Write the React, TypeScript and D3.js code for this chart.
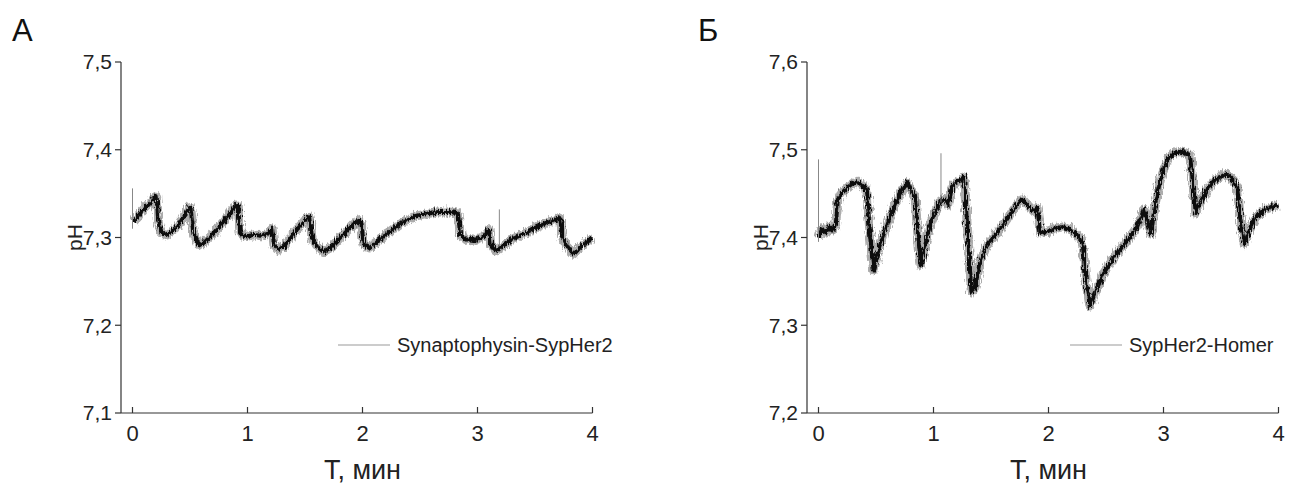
import * as d3 from 'd3';

// Panel A: Synaptophysin-SypHer2 (time, min ; pH)
const timeA = [
  0.01, 0.04, 0.08, 0.12, 0.16, 0.19, 0.21, 0.225, 0.25, 0.3, 0.35, 0.4, 0.45, 0.49, 0.505,
  0.53, 0.58, 0.63, 0.7, 0.77, 0.84, 0.9, 0.92, 0.935, 0.98, 1.05, 1.12, 1.18, 1.215, 1.23,
  1.27, 1.32, 1.38, 1.45, 1.51, 1.545, 1.56, 1.6, 1.66, 1.72, 1.8, 1.87, 1.93, 1.97, 1.99,
  2.01, 2.06, 2.12, 2.2, 2.28, 2.36, 2.45, 2.55, 2.65, 2.75, 2.83, 2.85, 2.9, 2.97, 3.05,
  3.1, 3.115, 3.16, 3.22, 3.3, 3.4, 3.5, 3.6, 3.68, 3.72, 3.74, 3.79, 3.84, 3.9, 3.96, 4.0,
];
const phA = [
  7.318, 7.322, 7.33, 7.335, 7.34, 7.346, 7.347, 7.318, 7.306, 7.303, 7.308, 7.314, 7.325, 7.334, 7.334,
  7.305, 7.291, 7.295, 7.304, 7.315, 7.326, 7.337, 7.336, 7.305, 7.301, 7.303, 7.302, 7.305, 7.31, 7.292,
  7.286, 7.29, 7.301, 7.312, 7.321, 7.323, 7.3, 7.29, 7.284, 7.288, 7.299, 7.308, 7.316, 7.319, 7.316,
  7.292, 7.288, 7.294, 7.303, 7.311, 7.318, 7.324, 7.327, 7.329, 7.329, 7.328, 7.303, 7.298, 7.297, 7.301,
  7.309, 7.292, 7.285, 7.29, 7.298, 7.304, 7.311, 7.317, 7.32, 7.322, 7.3, 7.288, 7.281, 7.29, 7.296, 7.299,
];
const spikeTimeA = [0.0, 3.19];
const spikeLowA = [7.31, 7.29];
const spikeHighA = [7.356, 7.332];

// Panel Б: SypHer2-Homer
const timeB = [
  0.005, 0.03, 0.06, 0.09, 0.12, 0.15, 0.17, 0.2, 0.25, 0.3, 0.35, 0.4, 0.42, 0.45, 0.48,
  0.52, 0.57, 0.62, 0.67, 0.72, 0.77, 0.8, 0.84, 0.86, 0.89, 0.93, 0.97, 1.02, 1.06, 1.1,
  1.13, 1.16, 1.2, 1.24, 1.265, 1.29, 1.33, 1.36, 1.4, 1.46, 1.52, 1.58, 1.65, 1.72, 1.77,
  1.82, 1.87, 1.9, 1.93, 1.97, 2.05, 2.12, 2.18, 2.24, 2.28, 2.3, 2.33, 2.36, 2.4, 2.47,
  2.55, 2.62, 2.7, 2.77, 2.83, 2.86, 2.89, 2.93, 2.98, 3.04, 3.08, 3.13, 3.18, 3.23, 3.25,
  3.28, 3.32, 3.38, 3.44, 3.5, 3.55, 3.61, 3.64, 3.67, 3.7, 3.75, 3.8, 3.87, 3.94, 4.0,
];
const phB = [
  7.4, 7.41, 7.405, 7.412, 7.408, 7.415, 7.445, 7.45, 7.457, 7.462, 7.463, 7.457, 7.455, 7.4, 7.362,
  7.385, 7.405, 7.423, 7.44, 7.452, 7.463, 7.455, 7.446, 7.41, 7.368, 7.392, 7.415, 7.43, 7.442, 7.444,
  7.437, 7.458, 7.463, 7.466, 7.469, 7.42, 7.338, 7.342, 7.37, 7.39, 7.4, 7.41, 7.423, 7.436, 7.444,
  7.437, 7.43, 7.434, 7.405, 7.406, 7.41, 7.412, 7.41, 7.404, 7.398, 7.39, 7.345, 7.322, 7.335, 7.357,
  7.374, 7.386, 7.399, 7.412, 7.432, 7.42, 7.404, 7.44, 7.47, 7.49, 7.495, 7.498, 7.497, 7.494, 7.47,
  7.428, 7.44, 7.455, 7.465, 7.47, 7.472, 7.465, 7.458, 7.42, 7.393, 7.41, 7.423, 7.431, 7.435, 7.437,
];
const spikeTimeB = [0.0, 1.065];
const spikeLowB = [7.395, 7.44];
const spikeHighB = [7.489, 7.496];

const xTicks = [0, 1, 2, 3, 4];
const yTicksA = [7.1, 7.2, 7.3, 7.4, 7.5];
const yTicksB = [7.2, 7.3, 7.4, 7.5, 7.6];

const FONT = '"Liberation Sans", Arial, sans-serif';

type PanelProps = {
  letter: string;
  axisX: number;
  times: number[];
  values: number[];
  spikeT: number[];
  spikeLo: number[];
  spikeHi: number[];
  yTicks: number[];
  legend: string;
  legendX: number;
};

const Panel = ({ letter, axisX, times, values, spikeT, spikeLo, spikeHi, yTicks, legend, legendX }: PanelProps) => {
  const top = 62;
  const bottom = 413;
  const x = d3.scaleLinear().domain([-0.1, 4]).range([axisX, axisX + 4.1 * 115]);
  const y = d3.scaleLinear().domain([yTicks[0], yTicks[yTicks.length - 1]]).range([bottom, top]);
  const pts = times.map((t, i) => [t, values[i]] as [number, number]);
  const line = d3.line<[number, number]>()
    .x(d => x(d[0]))
    .y(d => y(d[1]));
  const path = line(pts) ?? '';
  const axisColor = '#333';

  return (
    <g>
      <text x={axisX - 109} y={41} fontSize={31} fontFamily={FONT} fill="#111">{letter}</text>

      {/* y axis */}
      <line x1={axisX} x2={axisX} y1={top} y2={bottom} stroke={axisColor} strokeWidth={1.2} />
      {yTicks.map(v => (
        <g key={v}>
          <line x1={axisX - 6} x2={axisX} y1={y(v)} y2={y(v)} stroke={axisColor} strokeWidth={1.2} />
          <text x={axisX - 9} y={y(v)} dy="0.35em" textAnchor="end" fontSize={21} fontFamily={FONT} fill="#222">
            {d3.format('.1f')(v).replace('.', ',')}
          </text>
        </g>
      ))}

      {/* x axis */}
      <line x1={axisX} x2={x(4)} y1={bottom} y2={bottom} stroke={axisColor} strokeWidth={1.2} />
      {xTicks.map(t => (
        <g key={t}>
          <line x1={x(t)} x2={x(t)} y1={bottom} y2={bottom - 6} stroke={axisColor} strokeWidth={1.2} />
          <text x={x(t)} y={441} textAnchor="middle" fontSize={22} fontFamily={FONT} fill="#222">{t}</text>
        </g>
      ))}

      <text x={x(2)} y={479} textAnchor="middle" fontSize={27} fontFamily={FONT} fill="#222">T, мин</text>
      <text
        transform={`translate(${axisX - 46},${y((yTicks[1] + yTicks[3]) / 2)}) rotate(-90)`}
        textAnchor="middle"
        dy="0.35em"
        fontSize={21}
        fontFamily={FONT}
        fill="#222"
      >pH</text>

      {/* trace: thick band with a fine-grained texture */}
      <g filter="url(#fuzz)">
        <path d={path} fill="none" stroke="#666" strokeOpacity={0.55} strokeWidth={9} strokeLinejoin="round" />
        <path d={path} fill="none" stroke="#111" strokeWidth={4} strokeLinejoin="round" />
      </g>
      {spikeT.map((t, i) => (
        <line key={i} x1={x(t)} x2={x(t)} y1={y(spikeLo[i])} y2={y(spikeHi[i])} stroke="#888" strokeWidth={1} />
      ))}

      {/* legend */}
      <line x1={legendX} x2={legendX + 52} y1={345} y2={345} stroke="#999" strokeWidth={1} />
      <text x={legendX + 59} y={352} fontSize={20} fontFamily={FONT} fill="#222">{legend}</text>
    </g>
  );
};

export default function App() {
  return (
    <svg width={1298} height={484} style={{ position: 'absolute', left: 0, top: 0, background: '#fff' }}>
      <defs>
        <filter id="fuzz" x="-5%" y="-20%" width="110%" height="140%">
          <feTurbulence type="fractalNoise" baseFrequency="0.9 0.15" numOctaves={2} seed={3} result="noise" />
          <feDisplacementMap in="SourceGraphic" in2="noise" scale={7} xChannelSelector="R" yChannelSelector="G" />
        </filter>
      </defs>
      <Panel
        letter="А"
        axisX={121}
        times={timeA}
        values={phA}
        spikeT={spikeTimeA}
        spikeLo={spikeLowA}
        spikeHi={spikeHighA}
        yTicks={yTicksA}
        legend="Synaptophysin-SypHer2"
        legendX={338}
      />
      <Panel
        letter="Б"
        axisX={807}
        times={timeB}
        values={phB}
        spikeT={spikeTimeB}
        spikeLo={spikeLowB}
        spikeHi={spikeHighB}
        yTicks={yTicksB}
        legend="SypHer2-Homer"
        legendX={1070}
      />
    </svg>
  );
}
